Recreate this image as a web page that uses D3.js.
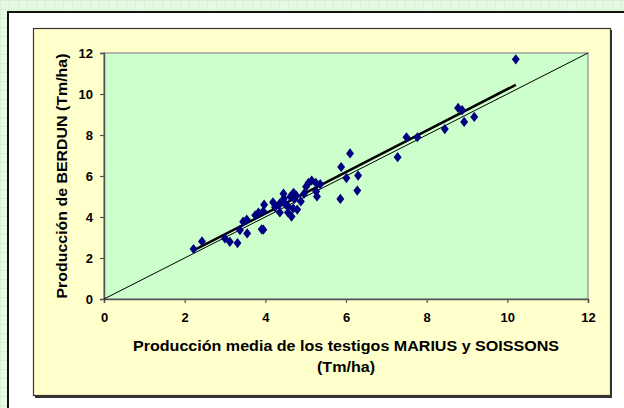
<!DOCTYPE html>
<html><head><meta charset="utf-8">
<script src="https://cdn.jsdelivr.net/npm/d3@7"></script>
<style>html,body{margin:0;padding:0;background:#fff;}svg{display:block;}</style>
</head><body>
<script>
const xVals = [2.22,2.43,3.00,3.12,3.31,3.37,3.45,3.54,3.55,3.75,3.83,3.91,3.95,3.97,3.95,4.19,4.24,4.34,4.36,4.36,4.45,4.46,4.50,4.56,4.57,4.62,4.65,4.69,4.70,4.72,4.77,4.79,4.88,4.96,5.01,5.07,5.15,5.25,5.26,5.28,5.36,5.86,5.88,6.01,6.10,6.28,6.30,7.28,7.50,7.77,8.45,8.78,8.88,8.93,9.18,10.21];
const yVals = [2.44,2.81,2.95,2.79,2.73,3.36,3.77,3.87,3.20,4.08,4.21,3.40,3.38,4.60,4.28,4.72,4.48,4.58,4.22,4.67,5.14,4.90,4.62,4.22,4.50,4.99,4.02,4.42,5.18,4.88,5.04,4.36,4.76,5.14,5.48,5.66,5.78,5.67,5.25,5.00,5.60,4.88,6.44,5.90,7.10,5.29,6.02,6.92,7.89,7.89,8.29,9.32,9.21,8.64,8.88,11.69];
const trendX = [2.22, 10.21];
const trendY = [2.37, 10.45];
const refX = [0, 12];
const refY = [0, 12];
const tickVals = [0, 2, 4, 6, 8, 10, 12];
const xTitle = ["Producción media de los testigos MARIUS y SOISSONS", "(Tm/ha)"];
const yTitle = "Producción de BERDUN (Tm/ha)";

const W = 624, H = 408;
const svg = d3.select("body").append("svg").attr("width", W).attr("height", H);
const defs = svg.append("defs");
const pat = defs.append("pattern").attr("id","grid").attr("width",9).attr("height",9).attr("patternUnits","userSpaceOnUse");
pat.append("rect").attr("width",9).attr("height",9).attr("fill","#e6fae6");
pat.append("path").attr("d","M0 0.5H9M0.5 0V9").attr("stroke","#d2f2d2").attr("stroke-width",1);
svg.append("rect").attr("width",W).attr("height",H).attr("fill","url(#grid)");
svg.append("rect").attr("x",8).attr("y",12).attr("width",W).attr("height",H).attr("fill","#fff").attr("stroke","#111").attr("stroke-width",2);
svg.append("rect").attr("x",35).attr("y",30).attr("width",577).attr("height",368).attr("fill","#333");
svg.append("rect").attr("x",33.5).attr("y",28.5).attr("width",577).attr("height",367).attr("fill","#ffffcc").attr("stroke","#333").attr("stroke-width",1.2);

const x = d3.scaleLinear().domain([0,12]).range([104,588]);
const y = d3.scaleLinear().domain([0,12]).range([299,53]);

svg.append("rect").attr("x",104).attr("y",53).attr("width",484).attr("height",246).attr("fill","#ccffcc").attr("stroke","#a0a0a0").attr("stroke-width",1.5);

const fontF = "Arial, 'Liberation Sans', sans-serif";
const xAxis = svg.append("g").attr("transform","translate(0,299)")
  .call(d3.axisBottom(x).tickValues(tickVals).tickSize(4).tickPadding(10).tickFormat(d3.format("d")));
const yAxis = svg.append("g").attr("transform","translate(104,0)")
  .call(d3.axisLeft(y).tickValues(tickVals).tickSize(4).tickPadding(7).tickFormat(d3.format("d")));
[xAxis, yAxis].forEach(g => {
  g.select(".domain").attr("stroke","#555").attr("stroke-width",1.5);
  g.selectAll(".tick line").attr("stroke","#555").attr("stroke-width",1.2);
  g.selectAll("text").attr("font-family",fontF).attr("font-weight","bold").attr("font-size",13).attr("fill","#000");
});

const line = d3.line().x(d => x(d[0])).y(d => y(d[1]));
svg.append("path").datum(d3.zip(refX, refY)).attr("d", line).attr("stroke","#000").attr("stroke-width",1).attr("fill","none");
svg.append("path").datum(d3.zip(trendX, trendY)).attr("d", line).attr("stroke","#000").attr("stroke-width",2.5).attr("fill","none");

const diamond = d3.symbol().type(d3.symbolDiamond).size(30);
svg.append("g").selectAll("path").data(d3.zip(xVals, yVals)).join("path")
  .attr("d", diamond)
  .attr("transform", d => `translate(${x(d[0])},${y(d[1])}) scale(1.35,1)`)
  .attr("fill","#000080");

const xLens = [426, 58];
svg.append("g").selectAll("text").data(xTitle).join("text")
  .attr("x", 346).attr("y", (d,i) => 351 + i*21)
  .attr("text-anchor","middle").attr("font-family",fontF).attr("font-weight","bold").attr("font-size",14)
  .attr("textLength", (d,i) => xLens[i]).attr("lengthAdjust","spacingAndGlyphs")
  .text(d => d);
svg.append("text").attr("transform","translate(67,176) rotate(-90)")
  .attr("text-anchor","middle").attr("font-family",fontF).attr("font-weight","bold").attr("font-size",14.5)
  .attr("textLength", 245).attr("lengthAdjust","spacingAndGlyphs")
  .text(yTitle);
</script>
</body></html>
